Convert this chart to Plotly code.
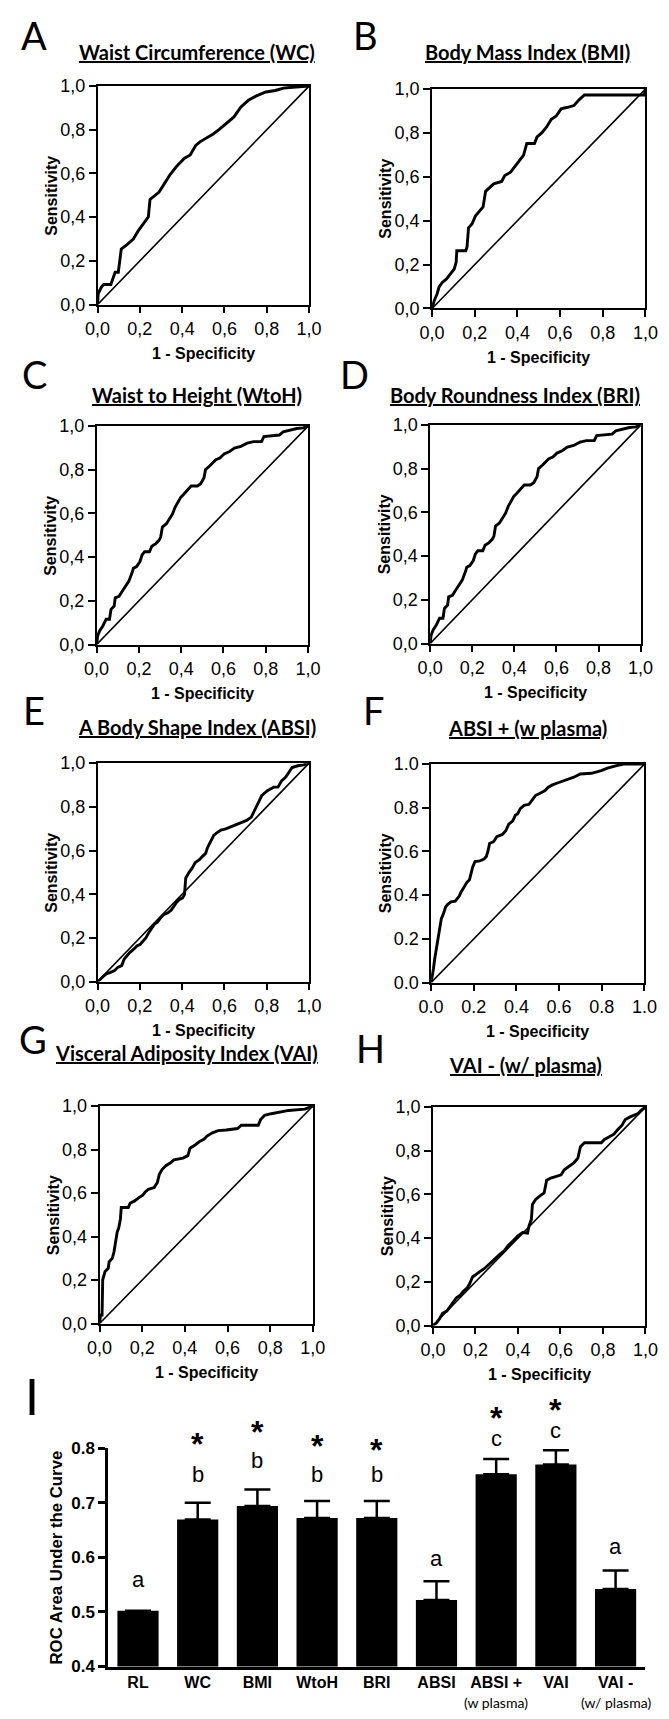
import plotly.graph_objects as go

W, H = 669, 1719

# ---------------- ROC curve data (1 - specificity, sensitivity) ----------------
wc_fpr = [0, 0.003, 0.018, 0.029, 0.063, 0.074, 0.083, 0.098, 0.104, 0.112, 0.139, 0.169, 0.192, 0.215, 0.240, 0.248, 0.267, 0.290, 0.313, 0.343, 0.373, 0.411, 0.438, 0.464, 0.486, 0.517, 0.547, 0.577, 0.607, 0.645, 0.678, 0.713, 0.751, 0.796, 0.841, 0.879, 0.924, 1.0]
wc_tpr = [0, 0.050, 0.080, 0.092, 0.092, 0.118, 0.148, 0.148, 0.201, 0.254, 0.274, 0.300, 0.337, 0.368, 0.401, 0.481, 0.496, 0.514, 0.549, 0.595, 0.632, 0.670, 0.685, 0.728, 0.746, 0.764, 0.781, 0.803, 0.829, 0.859, 0.905, 0.935, 0.955, 0.973, 0.980, 0.991, 0.995, 1.0]

bmi_fpr = [0, 0.011, 0.023, 0.033, 0.048, 0.068, 0.086, 0.104, 0.113, 0.116, 0.158, 0.164, 0.171, 0.188, 0.203, 0.221, 0.239, 0.251, 0.269, 0.289, 0.326, 0.341, 0.368, 0.389, 0.409, 0.429, 0.444, 0.480, 0.492, 0.514, 0.537, 0.559, 0.582, 0.605, 0.635, 0.665, 0.690, 0.714, 0.995, 1.0]
bmi_tpr = [0, 0.038, 0.065, 0.098, 0.119, 0.135, 0.158, 0.180, 0.211, 0.263, 0.263, 0.281, 0.368, 0.386, 0.421, 0.441, 0.463, 0.534, 0.549, 0.568, 0.579, 0.606, 0.621, 0.647, 0.672, 0.699, 0.752, 0.752, 0.782, 0.800, 0.827, 0.862, 0.877, 0.910, 0.917, 0.925, 0.952, 0.973, 0.973, 1.0]

wtoh_fpr = [0, 0.005, 0.015, 0.030, 0.045, 0.061, 0.068, 0.083, 0.088, 0.106, 0.121, 0.136, 0.152, 0.167, 0.174, 0.189, 0.205, 0.215, 0.227, 0.250, 0.261, 0.280, 0.295, 0.303, 0.311, 0.330, 0.344, 0.359, 0.371, 0.386, 0.397, 0.412, 0.432, 0.447, 0.477, 0.492, 0.508, 0.515, 0.533, 0.548, 0.564, 0.583, 0.603, 0.629, 0.652, 0.682, 0.712, 0.742, 0.780, 0.791, 0.864, 0.882, 0.917, 0.947, 0.977, 1.0]
wtoh_tpr = [0, 0.041, 0.063, 0.086, 0.116, 0.116, 0.161, 0.176, 0.214, 0.221, 0.244, 0.267, 0.289, 0.327, 0.349, 0.357, 0.380, 0.410, 0.425, 0.425, 0.450, 0.462, 0.477, 0.492, 0.538, 0.553, 0.575, 0.598, 0.628, 0.651, 0.673, 0.688, 0.711, 0.726, 0.726, 0.736, 0.764, 0.801, 0.816, 0.831, 0.846, 0.854, 0.872, 0.884, 0.899, 0.907, 0.922, 0.929, 0.929, 0.952, 0.959, 0.974, 0.982, 0.989, 0.992, 1.0]

bri_fpr = [0, 0.005, 0.015, 0.030, 0.045, 0.061, 0.068, 0.083, 0.088, 0.106, 0.121, 0.136, 0.152, 0.167, 0.174, 0.189, 0.205, 0.215, 0.227, 0.250, 0.261, 0.280, 0.295, 0.303, 0.311, 0.330, 0.344, 0.359, 0.371, 0.386, 0.397, 0.412, 0.432, 0.447, 0.477, 0.492, 0.508, 0.515, 0.533, 0.548, 0.564, 0.583, 0.603, 0.629, 0.652, 0.682, 0.712, 0.742, 0.780, 0.791, 0.864, 0.882, 0.917, 0.947, 0.977, 1.0]
bri_tpr = [0, 0.041, 0.063, 0.086, 0.116, 0.116, 0.161, 0.176, 0.214, 0.221, 0.244, 0.267, 0.289, 0.327, 0.349, 0.357, 0.380, 0.410, 0.425, 0.425, 0.450, 0.462, 0.477, 0.492, 0.538, 0.553, 0.575, 0.598, 0.628, 0.651, 0.673, 0.688, 0.711, 0.726, 0.726, 0.736, 0.764, 0.801, 0.816, 0.831, 0.846, 0.854, 0.872, 0.884, 0.899, 0.907, 0.922, 0.929, 0.929, 0.952, 0.959, 0.974, 0.982, 0.989, 0.992, 1.0]

absi_fpr = [0, 0.008, 0.023, 0.041, 0.061, 0.080, 0.095, 0.114, 0.126, 0.138, 0.152, 0.171, 0.186, 0.202, 0.217, 0.229, 0.242, 0.255, 0.268, 0.283, 0.298, 0.314, 0.333, 0.348, 0.359, 0.374, 0.386, 0.402, 0.411, 0.417, 0.432, 0.447, 0.462, 0.480, 0.495, 0.511, 0.520, 0.538, 0.550, 0.565, 0.583, 0.606, 0.629, 0.652, 0.674, 0.705, 0.727, 0.742, 0.758, 0.777, 0.803, 0.833, 0.853, 0.871, 0.889, 0.905, 0.920, 0.947, 0.974, 1.0]
absi_tpr = [0, 0.005, 0.020, 0.035, 0.042, 0.050, 0.065, 0.073, 0.103, 0.118, 0.133, 0.148, 0.163, 0.171, 0.186, 0.201, 0.224, 0.242, 0.262, 0.272, 0.292, 0.307, 0.315, 0.327, 0.345, 0.363, 0.375, 0.383, 0.398, 0.474, 0.499, 0.519, 0.545, 0.557, 0.572, 0.587, 0.613, 0.648, 0.670, 0.682, 0.693, 0.699, 0.708, 0.719, 0.726, 0.738, 0.753, 0.784, 0.817, 0.852, 0.874, 0.890, 0.890, 0.920, 0.935, 0.958, 0.980, 0.988, 0.992, 1.0]

absip_fpr = [0, 0.005, 0.011, 0.017, 0.023, 0.029, 0.036, 0.042, 0.048, 0.057, 0.068, 0.078, 0.093, 0.113, 0.132, 0.140, 0.153, 0.168, 0.180, 0.188, 0.195, 0.206, 0.229, 0.248, 0.259, 0.268, 0.274, 0.293, 0.308, 0.334, 0.350, 0.364, 0.383, 0.395, 0.406, 0.418, 0.436, 0.459, 0.474, 0.489, 0.511, 0.534, 0.549, 0.571, 0.602, 0.632, 0.669, 0.699, 0.752, 0.797, 0.827, 0.865, 0.902, 1.0]
absip_tpr = [0, 0.026, 0.063, 0.109, 0.147, 0.184, 0.215, 0.252, 0.293, 0.313, 0.346, 0.358, 0.369, 0.373, 0.396, 0.414, 0.438, 0.459, 0.471, 0.502, 0.529, 0.554, 0.557, 0.565, 0.577, 0.607, 0.637, 0.645, 0.668, 0.678, 0.695, 0.725, 0.740, 0.766, 0.773, 0.796, 0.811, 0.816, 0.834, 0.856, 0.867, 0.879, 0.894, 0.906, 0.917, 0.927, 0.940, 0.955, 0.958, 0.970, 0.982, 0.992, 1.0, 1.0]

vai_fpr = [0, 0.005, 0.012, 0.015, 0.026, 0.041, 0.045, 0.060, 0.068, 0.075, 0.083, 0.090, 0.098, 0.102, 0.135, 0.144, 0.165, 0.183, 0.203, 0.214, 0.229, 0.256, 0.271, 0.280, 0.293, 0.311, 0.331, 0.349, 0.391, 0.414, 0.424, 0.448, 0.469, 0.489, 0.504, 0.529, 0.556, 0.594, 0.647, 0.665, 0.744, 0.755, 0.774, 0.805, 0.842, 0.887, 0.962, 1.0]
vai_tpr = [0, 0.039, 0.039, 0.201, 0.239, 0.254, 0.284, 0.300, 0.330, 0.375, 0.421, 0.439, 0.481, 0.534, 0.534, 0.554, 0.564, 0.578, 0.590, 0.605, 0.617, 0.625, 0.648, 0.685, 0.708, 0.726, 0.738, 0.753, 0.761, 0.772, 0.806, 0.821, 0.837, 0.847, 0.862, 0.877, 0.887, 0.890, 0.897, 0.912, 0.912, 0.938, 0.958, 0.965, 0.973, 0.980, 0.986, 1.0]

vaim_fpr = [0, 0.015, 0.030, 0.045, 0.065, 0.080, 0.095, 0.110, 0.128, 0.143, 0.161, 0.173, 0.186, 0.204, 0.222, 0.241, 0.261, 0.279, 0.297, 0.317, 0.336, 0.354, 0.377, 0.400, 0.422, 0.445, 0.452, 0.463, 0.468, 0.483, 0.505, 0.523, 0.535, 0.554, 0.581, 0.603, 0.618, 0.641, 0.664, 0.682, 0.694, 0.713, 0.792, 0.807, 0.830, 0.852, 0.870, 0.890, 0.905, 0.928, 0.965, 0.980, 1.0]
vaim_tpr = [0, 0.011, 0.030, 0.056, 0.066, 0.086, 0.104, 0.127, 0.139, 0.157, 0.172, 0.192, 0.222, 0.233, 0.248, 0.260, 0.278, 0.298, 0.313, 0.328, 0.343, 0.366, 0.388, 0.411, 0.426, 0.423, 0.456, 0.486, 0.554, 0.577, 0.595, 0.607, 0.665, 0.675, 0.683, 0.690, 0.713, 0.728, 0.746, 0.766, 0.819, 0.837, 0.837, 0.852, 0.864, 0.876, 0.897, 0.917, 0.943, 0.955, 0.970, 0.985, 1.0]

chance_line = [0.0, 1.0]
roc_ticks = [0.0, 0.2, 0.4, 0.6, 0.8, 1.0]

panel_titles = ["Waist Circumference (WC)", "Body Mass Index (BMI)", "Waist to Height (WtoH)",
                "Body Roundness Index (BRI)", "A Body Shape Index (ABSI)", "ABSI + (w plasma)",
                "Visceral Adiposity Index (VAI)", "VAI - (w/ plasma)"]
panel_letters = ["A", "B", "C", "D", "E", "F", "G", "H"]
panel_comma = [True, True, True, True, True, False, True, True]

# ---------------- AUC bar data ----------------
bar_categories = ["RL", "WC", "BMI", "WtoH", "BRI", "ABSI", "ABSI +", "VAI", "VAI -"]
bar_sublabels = ["", "", "", "", "", "", "(w plasma)", "", "(w/ plasma)"]
bar_auc = [0.502, 0.669, 0.694, 0.672, 0.672, 0.522, 0.752, 0.770, 0.542]
bar_sem = [0.0, 0.031, 0.030, 0.031, 0.031, 0.034, 0.028, 0.026, 0.034]
sig_letters = ["a", "b", "b", "b", "b", "a", "c", "c", "a"]
sig_letter_y = [0.559, 0.752, 0.778, 0.752, 0.752, 0.598, 0.817, 0.833, 0.619]
star_flags = [False, True, True, True, True, False, True, True, False]
star_y = [None, 0.800, 0.822, 0.797, 0.790, None, 0.848, 0.863, None]
bar_ticks = [0.4, 0.5, 0.6, 0.7, 0.8]
bar_range = [0.4, 0.8]

# ---------------- layout geometry (pixels) ----------------
boxes = [(88, 308, 77, 298), (436, 658, 80, 302),
         (87, 307, 421, 642), (434, 653, 420, 641),
         (88, 308, 762, 983), (435, 657, 763, 984),
         (90, 312, 1109, 1329), (437, 658, 1110, 1331)]
title_pos = [(191, 42), (535, 42), (191, 390), (522, 390),
             (191, 725), (535, 726), (181, 1055), (533, 1067)]
letter_pos = [(22, 25), (367, 25), (22, 368), (355, 368),
              (22, 708), (376, 708), (21, 1041), (372, 1050)]

curves = [(wc_fpr, wc_tpr), (bmi_fpr, bmi_tpr), (wtoh_fpr, wtoh_tpr), (bri_fpr, bri_tpr),
          (absi_fpr, absi_tpr), (absip_fpr, absip_tpr), (vai_fpr, vai_tpr), (vaim_fpr, vaim_tpr)]

ARIAL = "Liberation Sans, Arial, sans-serif"
CALIBRI = "Lato, Carlito, Calibri, sans-serif"


def px(x):
    return x / W


def py(y):
    return 1 - y / H


fig = go.Figure()
annotations = []
layout = dict(width=W, height=H, margin=dict(l=0, r=0, t=0, b=0),
              paper_bgcolor="white", plot_bgcolor="white", showlegend=False)


def ann(text, x, y, size, family, angle=0, xref="paper", yref="paper", yshift=0, color="black"):
    annotations.append(dict(text=text, x=x, y=y, xref=xref, yref=yref, showarrow=False,
                            xanchor="center", yanchor="middle", textangle=angle, yshift=yshift,
                            font=dict(size=size, family=family, color=color)))


for i, ((fpr, tpr), (l, r, t, b)) in enumerate(zip(curves, boxes)):
    n = i + 1
    xa = "x" if n == 1 else f"x{n}"
    ya = "y" if n == 1 else f"y{n}"
    fig.add_trace(go.Scatter(x=chance_line, y=chance_line, mode="lines",
                             line=dict(color="black", width=1.6), xaxis=xa, yaxis=ya,
                             cliponaxis=False, hoverinfo="skip"))
    fig.add_trace(go.Scatter(x=fpr, y=tpr, mode="lines",
                             line=dict(color="black", width=2.9), xaxis=xa, yaxis=ya,
                             cliponaxis=False, name=panel_titles[i]))
    labels = [f"{v:.1f}" for v in roc_ticks]
    if panel_comma[i]:
        labels = [s.replace(".", ",") for s in labels]
    common = dict(range=[0, 1], showline=True, linewidth=1.6, linecolor="black", mirror=True,
                  ticks="outside", ticklen=7, tickwidth=1.6, tickcolor="black",
                  tickvals=roc_ticks, ticktext=labels, showgrid=False, zeroline=False,
                  tickfont=dict(family=ARIAL, size=18, color="black"), fixedrange=True)
    layout["xaxis" if n == 1 else f"xaxis{n}"] = dict(common, domain=[px(l), px(r)], anchor=ya)
    layout["yaxis" if n == 1 else f"yaxis{n}"] = dict(common, domain=[py(b), py(t)], anchor=xa)
    tx, ty = title_pos[i]
    ann(f"<b><u>{panel_titles[i]}</u></b>", px(tx), py(ty), 20, CALIBRI)
    lx, ly = letter_pos[i]
    ann(panel_letters[i], px(lx), py(ly), 38, CALIBRI)
    ann("<b>1 - Specificity</b>", px((l + r) / 2), py(b + 50), 16, ARIAL)
    ann("<b>Sensitivity</b>", px(l - 48), py((t + b) / 2), 16, ARIAL, angle=-90)

# ---------------- bar chart (panel I) ----------------
bx0, bx1, by_top, by_bot = 99, 658, 1455, 1676
cat_pos = list(range(len(bar_categories)))


def bar_px_x(i):
    step = (bx1 - bx0) / len(bar_categories)
    return bx0 + step * (i + 0.5)


def bar_px_y(v):
    return by_bot - (v - bar_range[0]) / (bar_range[1] - bar_range[0]) * (by_bot - by_top)


fig.add_trace(go.Bar(x=cat_pos, y=bar_auc, width=0.69, xaxis="x9", yaxis="y9",
                     marker=dict(color="black", line=dict(width=0)),
                     error_y=dict(type="data", array=bar_sem, arrayminus=[0] * len(bar_sem),
                                  symmetric=False, color="black", thickness=2.5, width=13)))
layout["xaxis9"] = dict(domain=[px(bx0), px(bx1)], anchor="y9", range=[-0.5, len(bar_categories) - 0.5],
                        showline=True, linewidth=2.5, linecolor="black", ticks="",
                        tickvals=cat_pos, ticktext=bar_categories, showgrid=False, zeroline=False,
                        tickfont=dict(family=ARIAL, size=16, color="black", weight="bold"), fixedrange=True)
layout["yaxis9"] = dict(domain=[py(by_bot), py(by_top)], anchor="x9", range=bar_range,
                        showline=True, linewidth=2.5, linecolor="black", ticks="outside",
                        ticklen=7, tickwidth=2.5, tickcolor="black",
                        tickvals=bar_ticks, ticktext=[f"{v:.1f}" for v in bar_ticks],
                        showgrid=False, zeroline=False,
                        tickfont=dict(family=ARIAL, size=17, color="black", weight="bold"), fixedrange=True)

for i, sub in enumerate(bar_sublabels):
    if sub:
        ann(sub, px(bar_px_x(i)), py(1712), 14, CALIBRI)
for i, (lt, ly) in enumerate(zip(sig_letters, sig_letter_y)):
    ann(lt, px(bar_px_x(i)), py(bar_px_y(ly)), 22, ARIAL)
for i, (f, sy) in enumerate(zip(star_flags, star_y)):
    if f:
        ann("<b>*</b>", px(bar_px_x(i)), py(bar_px_y(sy)), 32, ARIAL, yshift=4)

ann("<b>ROC Area Under the Curve</b>", px(45), py((by_top + by_bot) / 2), 16.8, ARIAL, angle=-90)
ann("I", px(20), py(1402), 50, CALIBRI)

layout["annotations"] = annotations
fig.update_layout(**layout)

fig.write_html("out.html", config={"displayModeBar": False},
               post_script="document.body.style.margin='0';document.body.style.overflow='hidden';")
